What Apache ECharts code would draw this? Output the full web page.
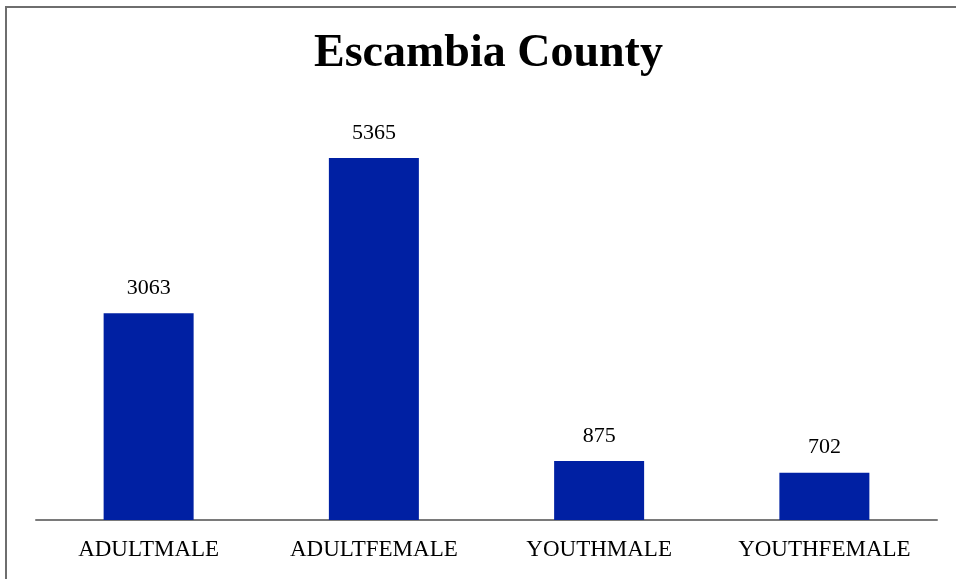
<!DOCTYPE html>
<html><head><meta charset="utf-8">
<script src="https://cdn.jsdelivr.net/npm/echarts@6/dist/echarts.min.js"></script>
<style>html,body{margin:0;padding:0;background:#fff}#c{width:956px;height:579px}</style>
</head><body><div id="c"></div>
<script>
const categories = ['ADULTMALE', 'ADULTFEMALE', 'YOUTHMALE', 'YOUTHFEMALE'];
const values = [3063, 5365, 875, 702];
const titleText = 'Escambia County';

const chart = echarts.init(document.getElementById('c'), null, {renderer: 'canvas'});
chart.setOption({
  animation: false,
  backgroundColor: '#fff',
  graphic: [{
    type: 'rect', shape: {x: 6, y: 7, width: 1200, height: 1200},
    style: {fill: 'none', stroke: '#6e6e6e', lineWidth: 2}, silent: true
  }],
  title: {
    text: titleText, left: 314, top: 31, padding: 0,
    textStyle: {fontFamily: 'Liberation Serif', fontWeight: 'bold', fontSize: 46, color: '#000'}
  },
  grid: {left: 36, right: 19, top: 115.2, bottom: 59, containLabel: false},
  xAxis: {
    type: 'category', data: categories,
    axisLine: {lineStyle: {color: '#7a7a7a', width: 2}},
    axisTick: {show: false},
    axisLabel: {fontFamily: 'Liberation Serif', fontSize: 23, color: '#000', margin: 18}
  },
  yAxis: {type: 'value', min: 0, max: 6000, show: false, splitLine: {show: false}},
  series: [{
    type: 'bar', data: values, barWidth: 90,
    itemStyle: {color: '#0020A3'},
    label: {show: true, position: 'top', distance: 14, fontFamily: 'Liberation Serif', fontSize: 22, color: '#000'}
  }]
});
</script></body></html>
